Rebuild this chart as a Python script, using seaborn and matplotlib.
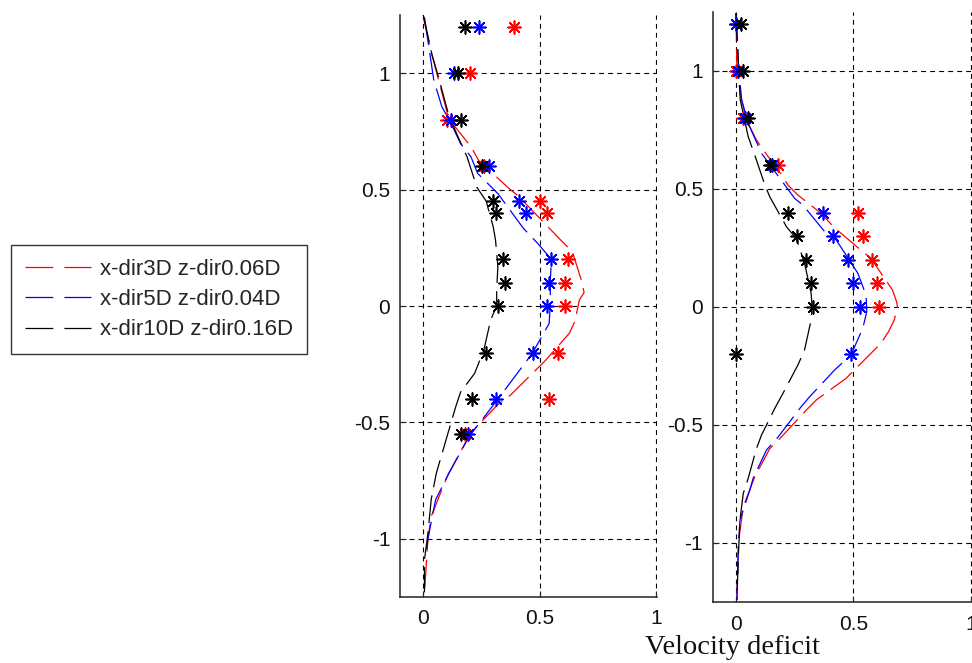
import matplotlib
matplotlib.use("Agg")
import matplotlib.pyplot as plt
import seaborn as sns
import pandas as pd

# ---------------- data ----------------
series_labels = ["x-dir3D z-dir0.06D", "x-dir5D z-dir0.04D", "x-dir10D z-dir0.16D"]
series_colors = ["#ff0000", "#0000ff", "#000000"]

# Left panel model curves (x = velocity deficit, y = height)
L_red_x = [0.00, 0.037, 0.10, 0.104, 0.205, 0.237, 0.36, 0.41, 0.59, 0.64, 0.68, 0.69, 0.67, 0.65,
           0.627, 0.526, 0.483, 0.375, 0.318, 0.203, 0.106, 0.085, 0.034, 0.02, 0.005]
L_red_y = [1.24, 1.08, 0.84, 0.81, 0.684, 0.626, 0.512, 0.47, 0.283, 0.233, 0.105, 0.058, 0.026, -0.067,
           -0.117, -0.232, -0.275, -0.382, -0.425, -0.546, -0.725, -0.775, -0.904, -1.0, -1.23]
L_blue_x = [0.005, 0.045, 0.08, 0.116, 0.16, 0.205, 0.233, 0.32, 0.43, 0.49, 0.55, 0.545, 0.545, 0.54,
            0.468, 0.318, 0.197, 0.11, 0.053, 0.04, 0.02, 0.01]
L_blue_y = [1.24, 0.97, 0.855, 0.79, 0.698, 0.64, 0.57, 0.483, 0.333, 0.27, 0.2, 0.11, 0.0, -0.075,
            -0.203, -0.403, -0.56, -0.718, -0.832, -0.897, -1.0, -1.075]
L_black_x = [0.0, 0.037, 0.066, 0.109, 0.152, 0.188, 0.23, 0.27, 0.30, 0.31, 0.32, 0.315, 0.315, 0.289,
             0.26, 0.22, 0.16, 0.14, 0.106, 0.056, 0.034, 0.02, 0.005, 0.005]
L_black_y = [1.25, 1.08, 0.98, 0.82, 0.72, 0.64, 0.51, 0.45, 0.34, 0.283, 0.17, 0.07, 0.0, -0.06,
             -0.189, -0.29, -0.37, -0.43, -0.546, -0.718, -0.83, -0.976, -1.09, -1.23]

# Left panel measurements
L_red_mx = [0.39, 0.20, 0.10, 0.26, 0.50, 0.53, 0.62, 0.61, 0.61, 0.58, 0.54, 0.18]
L_red_my = [1.2, 1.0, 0.8, 0.6, 0.45, 0.4, 0.2, 0.1, 0.0, -0.2, -0.4, -0.55]
L_blue_mx = [0.24, 0.13, 0.12, 0.28, 0.41, 0.44, 0.55, 0.54, 0.53, 0.47, 0.31, 0.19]
L_blue_my = [1.2, 1.0, 0.8, 0.6, 0.45, 0.4, 0.2, 0.1, 0.0, -0.2, -0.4, -0.55]
L_black_mx = [0.18, 0.15, 0.16, 0.25, 0.30, 0.31, 0.34, 0.35, 0.32, 0.27, 0.21, 0.16]
L_black_my = [1.2, 1.0, 0.8, 0.6, 0.45, 0.4, 0.2, 0.1, 0.0, -0.2, -0.4, -0.55]

# Right panel model curves
R_red_x = [0.0, 0.004, 0.024, 0.045, 0.087, 0.137, 0.172, 0.222, 0.264, 0.363, 0.415, 0.54, 0.575, 0.667,
           0.684, 0.688, 0.674, 0.667, 0.65, 0.617, 0.511, 0.469, 0.342, 0.30, 0.194, 0.144, 0.08,
           0.031, 0.01, 0.004]
R_red_y = [1.245, 1.0, 0.878, 0.792, 0.708, 0.637, 0.594, 0.516, 0.474, 0.397, 0.34, 0.234, 0.206, 0.071,
           0.022, 0.0, -0.055, -0.069, -0.104, -0.154, -0.26, -0.302, -0.394, -0.436, -0.55, -0.60, -0.719,
           -0.846, -1.0, -1.24]
R_blue_x = [0.0, 0.011, 0.024, 0.052, 0.109, 0.151, 0.25, 0.285, 0.377, 0.427, 0.519, 0.554, 0.557, 0.54,
            0.49, 0.42, 0.314, 0.278, 0.18, 0.13, 0.073, 0.059, 0.017, 0.01, 0.004]
R_blue_y = [1.245, 1.018, 0.878, 0.778, 0.651, 0.594, 0.46, 0.432, 0.32, 0.284, 0.143, 0.05, -0.02, -0.09,
            -0.203, -0.267, -0.38, -0.422, -0.55, -0.606, -0.726, -0.775, -0.902, -1.03, -1.24]
R_black_x = [0.0, 0.011, 0.018, 0.052, 0.087, 0.123, 0.144, 0.215, 0.257, 0.292, 0.32, 0.324, 0.32,
             0.292, 0.264, 0.20, 0.165, 0.109, 0.087, 0.052, 0.031, 0.017, 0.01, 0.004]
R_black_y = [1.245, 1.018, 0.878, 0.722, 0.623, 0.517, 0.467, 0.34, 0.29, 0.185, 0.058, 0.0, -0.055,
             -0.182, -0.245, -0.366, -0.43, -0.542, -0.60, -0.726, -0.79, -0.902, -1.058, -1.24]

# Right panel measurements
R_red_mx = [0.0, 0.0, 0.03, 0.18, 0.52, 0.54, 0.58, 0.60, 0.61]
R_red_my = [1.2, 1.0, 0.8, 0.6, 0.4, 0.3, 0.2, 0.1, 0.0]
R_blue_mx = [0.0, 0.01, 0.04, 0.155, 0.37, 0.415, 0.475, 0.50, 0.53, 0.49]
R_blue_my = [1.2, 1.0, 0.8, 0.6, 0.4, 0.3, 0.2, 0.1, 0.0, -0.2]
R_black_mx = [0.02, 0.03, 0.05, 0.145, 0.22, 0.26, 0.30, 0.32, 0.33, 0.0]
R_black_my = [1.2, 1.0, 0.8, 0.6, 0.4, 0.3, 0.2, 0.1, 0.0, -0.2]

x_ticks = [0, 0.5, 1]
x_tick_labels = ["0", "0.5", "1"]
y_ticks = [-1, -0.5, 0, 0.5, 1]
y_tick_labels = ["-1", "-0.5", "0", "0.5", "1"]
x_label = "Velocity deficit"

# ---------------- style ----------------
sns.set_theme(style="white")
plt.rcParams["font.family"] = ["Liberation Sans", "DejaVu Sans"]
plt.rcParams["axes.unicode_minus"] = False
plt.rcParams["lines.scale_dashes"] = False

fig = plt.figure(figsize=(9.72, 6.63), dpi=100)
W, H = 972.0, 663.0
axL = fig.add_axes([400 / W, (H - 597) / H, 257 / W, 582 / H])
axR = fig.add_axes([712.5 / W, (H - 602) / H, 259 / W, 590 / H])

curve_dash = (0, (20, 6))
star = (8, 2, 0)

panels = [
    (axL, [(L_red_x, L_red_y), (L_blue_x, L_blue_y), (L_black_x, L_black_y)],
     [(L_red_mx, L_red_my), (L_blue_mx, L_blue_my), (L_black_mx, L_black_my)]),
    (axR, [(R_red_x, R_red_y), (R_blue_x, R_blue_y), (R_black_x, R_black_y)],
     [(R_red_mx, R_red_my), (R_blue_mx, R_blue_my), (R_black_mx, R_black_my)]),
]

for ax, curves, meas in panels:
    for (cx, cy), (mx, my), col, lab in zip(curves, meas, series_colors, series_labels):
        dfc = pd.DataFrame({"x": cx, "y": cy})
        sns.lineplot(data=dfc, x="x", y="y", sort=False, estimator=None, ax=ax,
                     color=col, linewidth=0.9, linestyle=curve_dash, label=lab, legend=False)
        dfm = pd.DataFrame({"x": mx, "y": my})
        sns.scatterplot(data=dfm, x="x", y="y", ax=ax, marker=star, color=col,
                        s=85, linewidth=1.2, legend=False, zorder=4)

    ax.set_xlim(-0.1, 1.003)
    ax.set_ylim(-1.25, 1.25)
    ax.set_xticks(x_ticks)
    ax.set_xticklabels(x_tick_labels)
    ax.set_yticks(y_ticks)
    ax.set_yticklabels(y_tick_labels)
    ax.set_xlabel("")
    ax.set_ylabel("")
    ax.grid(True, color="black", linestyle=(0, (3.5, 3)), linewidth=0.8)
    ax.set_axisbelow(True)
    for side in ["top", "right"]:
        ax.spines[side].set_visible(False)
    for side in ["left", "bottom"]:
        ax.spines[side].set_color("#222222")
        ax.spines[side].set_linewidth(1.1)
    ax.tick_params(axis="both", direction="in", length=4, width=0.8, colors="#222222",
                   labelsize=15, labelcolor="#111111", left=True, bottom=True)
    ax.tick_params(axis="y", pad=7)
    ax.tick_params(axis="x", pad=9)
    ax.set_facecolor("white")

fig.text(732 / W, 1 - 648 / H, x_label, ha="center", va="center",
         fontsize=20.5, family=["Liberation Serif", "DejaVu Serif"], color="#111111")

handles = axL.get_lines()[:3]
leg = fig.legend(handles=handles, labels=series_labels, loc="upper left",
                 bbox_to_anchor=(11 / W, 1 - 245 / H), bbox_transform=fig.transFigure,
                 fontsize=16, frameon=True, fancybox=False, handlelength=3.0,
                 handletextpad=0.4, labelspacing=0.42, borderpad=0.62, borderaxespad=0)
leg.get_frame().set_edgecolor("black")
leg.get_frame().set_linewidth(1.0)
for lh in leg.get_lines():
    lh.set_linestyle((0, (20, 8)))

fig.savefig("out.png", dpi=100, facecolor="white")
